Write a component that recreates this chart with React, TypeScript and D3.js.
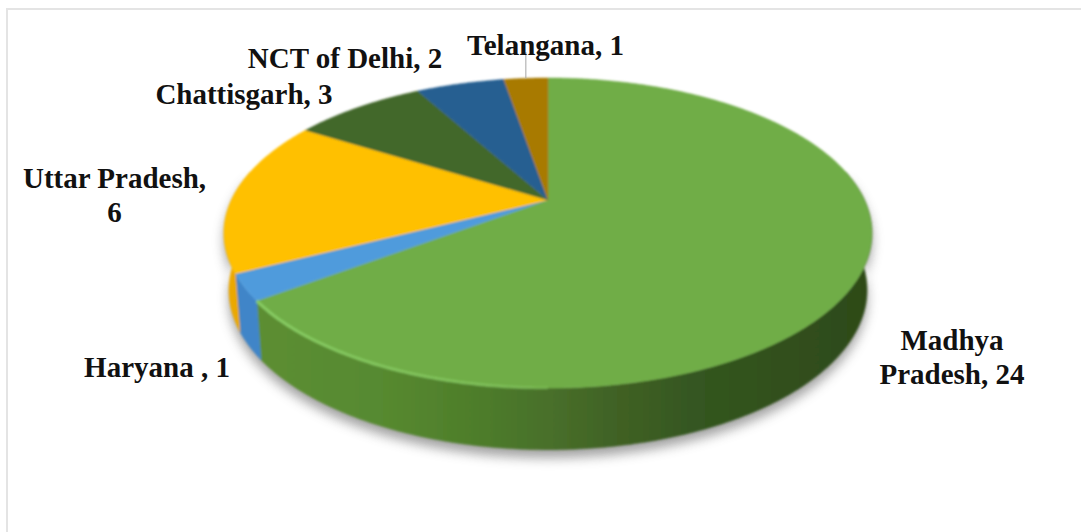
import React from 'react';
import * as d3 from 'd3';

const states = ['Madhya Pradesh', 'Haryana', 'Uttar Pradesh', 'Chattisgarh', 'NCT of Delhi', 'Telangana'];
const counts = [24, 1, 6, 3, 2, 1];
const topColors = ['#70ad47', '#4f9bdc', '#ffc000', '#43682b', '#255e91', '#a87a00'];
const sideColors = ['#4f7f2c', '#3f85c8', '#eba800', '#2f4a1e', '#1a4268', '#7a5800'];

const labelLines = [
  ['Madhya', 'Pradesh, 24'],
  ['Haryana , 1'],
  ['Uttar Pradesh,', '6'],
  ['Chattisgarh, 3'],
  ['NCT of Delhi, 2'],
  ['Telangana, 1'],
];
const labelCentres: [number, number][] = [
  [952, 350],
  [157, 377],
  [114.5, 188],
  [244, 104],
  [345, 68],
  [545.5, 55],
];

const width = 1081;
const height = 532;
const apex = { x: 548, y: 200 };

// perspective tilt of the disc, fitted to the outline of the top face
const tilt = 0.213;
const discX = 316.5;
const discY = 148;
// the bottom rim is the top rim pulled in a little and pushed down
const rimScaleX = 0.985;
const rimScaleY = 1.03;
const rimDrop = 56;

const project = (angle: number): [number, number] => {
  const u = Math.sin(angle);
  const v = Math.cos(angle);
  const w = 1 + tilt * v;
  return [apex.x + (u * discX) / w, apex.y - (v * discY) / w];
};

const projectRim = (angle: number): [number, number] => {
  const [x, y] = project(angle);
  return [apex.x + (x - apex.x) * rimScaleX, apex.y + (y - apex.y) * rimScaleY + rimDrop];
};

const line = d3.line();

const arcAngles = (a0: number, a1: number) => {
  const n = Math.max(2, Math.ceil((a1 - a0) / 0.01));
  return d3.range(n + 1).map(i => a0 + ((a1 - a0) * i) / n);
};

const topPath = (a0: number, a1: number) =>
  line([[apex.x, apex.y], ...arcAngles(a0, a1).map(project)]) + 'Z';

const sidePath = (a0: number, a1: number) => {
  const angles = arcAngles(a0, a1);
  return line([...angles.map(project), ...angles.slice().reverse().map(projectRim)]) + 'Z';
};

const edgePath = (a0: number, a1: number) => line(arcAngles(a0, a1).map(project)) || '';

export default function App() {
  const arcs = d3.pie<number>().sort(null)(counts);
  const telangana = arcs[5];
  const leaderTop = project((telangana.startAngle + telangana.endAngle) / 2);

  // only the near half of the rim is visible
  const nearStart = Math.PI / 2 - 0.2;
  const nearEnd = (3 * Math.PI) / 2 + 0.2;
  const clampNear = (a: d3.PieArcDatum<number>) => ({
    a0: Math.max(a.startAngle, nearStart),
    a1: Math.min(a.endAngle, nearEnd),
  });

  return (
    <svg
      width={width}
      height={height}
      style={{ position: 'absolute', left: 0, top: 0, background: '#fff' }}
      fontFamily="'Liberation Serif', serif"
    >
      <defs>
        <linearGradient id="greenSide" gradientUnits="userSpaceOnUse" x1={255} x2={872} y1={0} y2={0}>
          <stop offset="0" stopColor="#5c8e32" />
          <stop offset="0.2" stopColor="#578a30" />
          <stop offset="0.36" stopColor="#4e7d2b" />
          <stop offset="0.48" stopColor="#486f2a" />
          <stop offset="0.6" stopColor="#3f6024" />
          <stop offset="0.72" stopColor="#345620" />
          <stop offset="0.85" stopColor="#31501c" />
          <stop offset="1" stopColor="#2e4a19" />
        </linearGradient>
        <linearGradient id="bevel" gradientUnits="userSpaceOnUse" x1={255} x2={640} y1={0} y2={0}>
          <stop offset="0" stopColor="#8ad066" stopOpacity="0.9" />
          <stop offset="0.6" stopColor="#8ad066" stopOpacity="0.6" />
          <stop offset="1" stopColor="#8ad066" stopOpacity="0" />
        </linearGradient>
        <filter id="shadow" x="-10%" y="-20%" width="120%" height="150%">
          <feGaussianBlur stdDeviation="6" />
        </filter>
        <filter id="soft" x="-5%" y="-5%" width="110%" height="110%">
          <feGaussianBlur stdDeviation="0.8" />
        </filter>
      </defs>

      <line x1={6} x2={width} y1={9} y2={9} stroke="#e4e4e4" strokeWidth={2} />
      <line x1={7} x2={7} y1={8} y2={height} stroke="#e4e4e4" strokeWidth={2} />

      <path
        d={sidePath(nearStart, nearEnd)}
        transform="translate(0,8)"
        fill="#555"
        opacity={0.55}
        filter="url(#shadow)"
      />

      <g filter="url(#soft)">
        {arcs.map((a, i) => {
          const { a0, a1 } = clampNear(a);
          if (a1 <= a0) return null;
          return (
            <path
              key={states[i]}
              d={sidePath(a0, a1)}
              fill={i === 0 ? 'url(#greenSide)' : sideColors[i]}
              stroke={i === 0 ? 'url(#greenSide)' : sideColors[i]}
              strokeWidth={0.5}
            />
          );
        })}
        {arcs.map((a, i) => (
          <path key={states[i]} d={topPath(a.startAngle, a.endAngle)} fill={topColors[i]} stroke={topColors[i]} strokeWidth={0.5} />
        ))}
        <path d={edgePath(Math.PI, arcs[0].endAngle)} fill="none" stroke="url(#bevel)" strokeWidth={3} />
      </g>

      <line x1={leaderTop[0]} x2={leaderTop[0]} y1={52} y2={leaderTop[1]} stroke="#a6a6a6" strokeWidth={1} />

      {labelLines.map((lines, i) => (
        <text
          key={states[i]}
          x={labelCentres[i][0]}
          y={labelCentres[i][1]}
          textAnchor="middle"
          fontSize={29}
          fontWeight="bold"
          fill="#111"
        >
          {lines.map((t, j) => (
            <tspan key={t} x={labelCentres[i][0]} dy={j === 0 ? 0 : 33.5}>
              {t}
            </tspan>
          ))}
        </text>
      ))}
    </svg>
  );
}
